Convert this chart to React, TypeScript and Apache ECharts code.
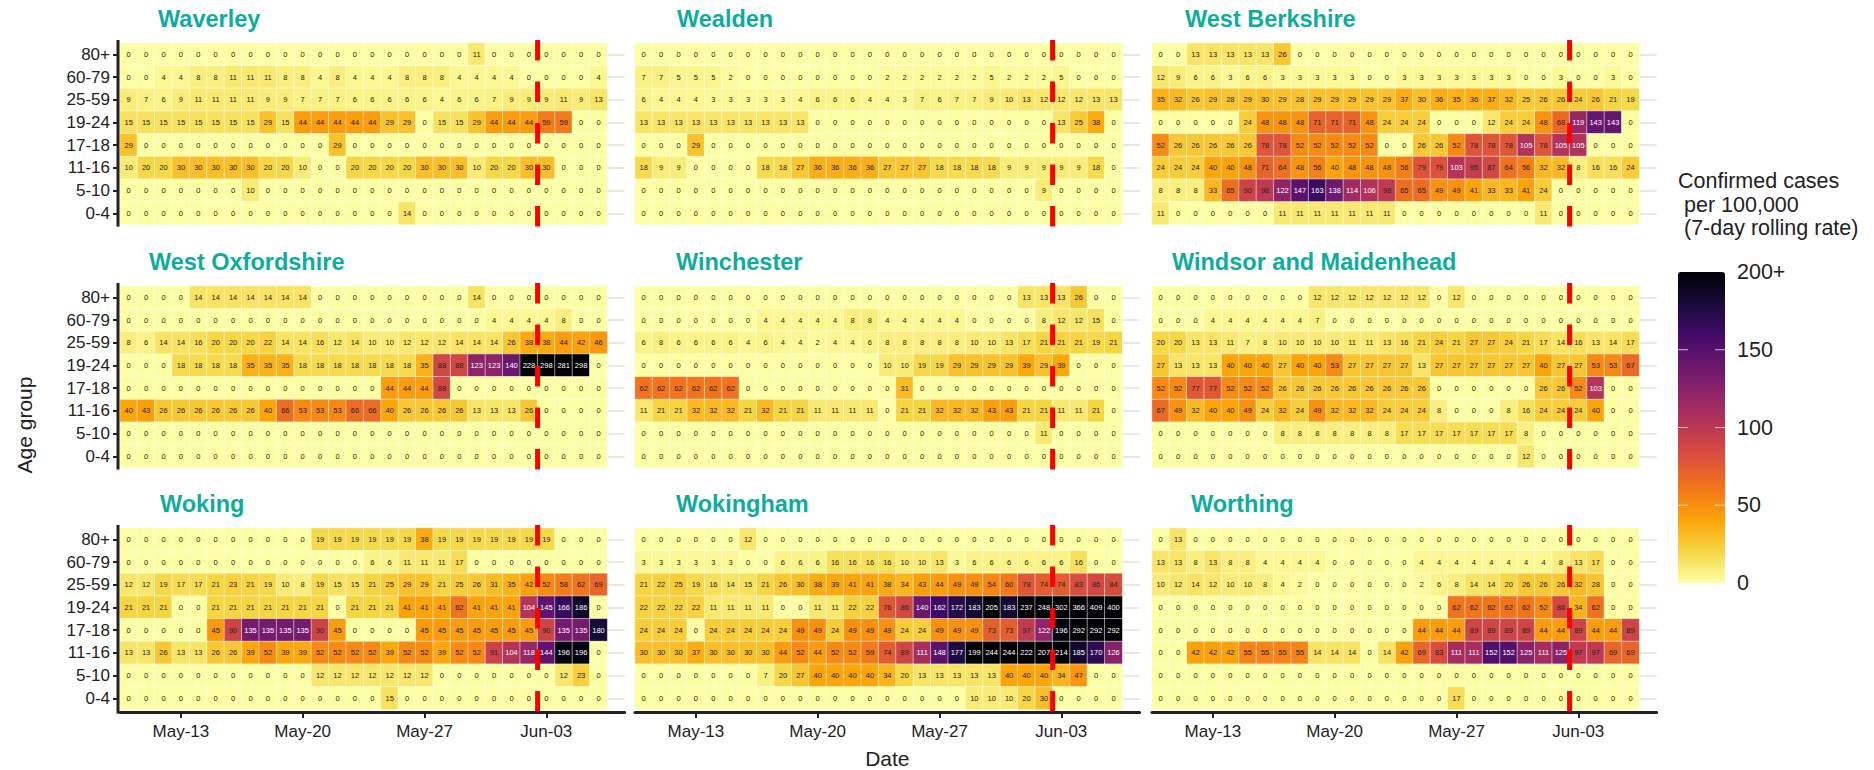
import React, { useEffect, useRef } from "react";
import * as echarts from "echarts";

const dates = ["May-10","May-11","May-12","May-13","May-14","May-15","May-16","May-17","May-18","May-19","May-20","May-21","May-22","May-23","May-24","May-25","May-26","May-27","May-28","May-29","May-30","May-31","Jun-01","Jun-02","Jun-03","Jun-04","Jun-05","Jun-06",""];
const ages = ["80+","60-79","25-59","19-24","17-18","11-16","5-10","0-4"];
const zeros = [0,0,0,0,0,0,0,0,0,0,0,0,0,0,0,0,0,0,0,0,0,0,0,0,0,0,0,0];

const waverley = [
  [0,0,0,0,0,0,0,0,0,0,0,0,0,0,0,0,0,0,0,0,11,0,0,0,0,0,0,0],
  [0,0,4,4,8,8,11,11,11,8,8,4,8,4,4,4,8,8,8,4,4,4,4,0,0,0,0,4],
  [9,7,6,9,11,11,11,11,9,9,7,7,7,6,6,6,6,6,4,6,6,7,9,9,9,11,9,13],
  [15,15,15,15,15,15,15,15,29,15,44,44,44,44,44,29,29,0,15,15,29,44,44,44,59,59,0,0],
  [29,0,0,0,0,0,0,0,0,0,0,0,29,0,0,0,0,0,0,0,0,0,0,0,0,0,0,0],
  [10,20,20,30,30,30,30,30,20,20,10,0,0,20,20,20,20,30,30,30,10,20,20,30,30,0,0,0],
  [0,0,0,0,0,0,0,10,0,0,0,0,0,0,0,0,0,0,0,0,0,0,0,0,0,0,0,0],
  [0,0,0,0,0,0,0,0,0,0,0,0,0,0,0,0,14,0,0,0,0,0,0,0,0,0,0,0],
];
const wealden = [
  zeros,
  [7,7,5,5,5,2,0,0,0,0,0,0,0,0,2,2,2,2,2,2,5,2,2,2,5,0,0,0],
  [6,4,4,4,3,3,3,3,3,4,6,6,6,4,4,3,7,6,7,7,9,10,13,12,12,12,13,13],
  [13,13,13,13,13,13,13,13,13,13,0,0,0,0,0,0,0,0,0,0,0,0,0,0,13,25,38,0],
  [0,0,0,29,0,0,0,0,0,0,0,0,0,0,0,0,0,0,0,0,0,0,0,0,0,0,0,0],
  [18,9,9,0,0,0,0,18,18,27,36,36,36,36,27,27,27,18,18,18,18,9,9,9,9,9,18,0],
  [0,0,0,0,0,0,0,0,0,0,0,0,0,0,0,0,0,0,0,0,0,0,0,9,0,0,0,0],
  zeros,
];
const westBerkshire = [
  [0,0,13,13,13,13,13,26,0,0,0,0,0,0,0,0,0,0,0,0,0,0,0,0,0,0,0,0],
  [12,9,6,6,3,6,6,3,3,3,3,3,0,0,3,3,3,3,3,3,3,0,0,3,0,0,3,0],
  [35,32,26,29,28,29,30,29,28,29,29,29,29,29,37,30,36,35,36,37,32,25,26,26,24,26,21,19],
  [0,0,0,0,0,24,48,48,48,71,71,71,48,24,24,24,0,0,0,12,24,24,48,68,119,143,143,0],
  [52,26,26,26,26,26,78,78,52,52,52,52,52,0,0,26,26,52,78,78,78,105,78,105,105,0,0,0],
  [24,24,24,40,40,48,71,64,48,56,40,48,48,48,56,79,79,103,95,87,64,56,32,32,8,16,16,24],
  [8,8,8,33,65,90,98,122,147,163,138,114,106,98,65,65,49,49,41,33,33,41,24,0,0,0,0,0],
  [11,0,0,0,0,0,0,11,11,11,11,11,11,11,0,0,0,0,0,0,0,0,11,0,0,0,0,0],
];
const westOxfordshire = [
  [0,0,0,0,14,14,14,14,14,14,14,0,0,0,0,0,0,0,0,0,14,0,0,0,0,0,0,0],
  [0,0,0,0,0,0,0,0,0,0,0,0,0,0,0,0,0,0,0,0,0,4,4,4,4,8,0,0],
  [8,6,14,14,16,20,20,20,22,14,14,16,12,14,10,10,12,12,12,14,14,14,26,38,38,44,42,46],
  [0,0,0,18,18,18,18,35,35,35,18,18,18,18,18,18,18,35,88,88,123,123,140,228,298,281,298,0],
  [0,0,0,0,0,0,0,0,0,0,0,0,0,0,0,44,44,44,88,0,0,0,0,0,0,0,0,0],
  [40,43,26,26,26,26,26,26,40,66,53,53,53,66,66,40,26,26,26,26,13,13,13,26,0,0,0,0],
  zeros,
  zeros,
];
const winchester = [
  [0,0,0,0,0,0,0,0,0,0,0,0,0,0,0,0,0,0,0,0,0,0,13,13,13,26,0,0],
  [0,0,0,0,0,0,0,4,4,4,4,4,8,8,4,4,4,4,4,0,0,0,0,8,12,12,15,0],
  [6,8,6,6,6,6,4,6,4,4,2,4,4,6,8,8,8,8,8,10,10,13,17,21,21,21,19,21],
  [0,0,0,0,0,0,0,0,0,0,0,0,0,0,10,10,19,19,29,29,29,29,39,29,39,0,0,0],
  [62,62,62,62,62,62,0,0,0,0,0,0,0,0,0,31,0,0,0,0,0,0,0,0,0,0,0,0],
  [11,21,21,32,32,32,21,32,21,21,11,11,11,11,0,21,21,32,32,32,43,43,21,21,11,11,21,0],
  [0,0,0,0,0,0,0,0,0,0,0,0,0,0,0,0,0,0,0,0,0,0,0,11,0,0,0,0],
  zeros,
];
const windsorMaidenhead = [
  [0,0,0,0,0,0,0,0,0,12,12,12,12,12,12,12,0,12,0,0,0,0,0,0,0,0,0,0],
  [0,0,0,4,4,4,4,4,4,7,0,0,0,0,0,0,0,0,0,0,0,0,0,0,0,0,0,0],
  [20,20,13,13,11,7,8,10,10,10,10,11,11,13,16,21,24,21,27,27,24,21,17,14,16,13,14,17],
  [27,13,13,13,40,40,40,27,40,40,53,27,27,27,27,13,27,27,27,27,27,27,40,27,27,53,53,67],
  [52,52,77,77,52,52,52,26,26,26,26,26,26,26,26,26,0,0,0,0,0,0,26,26,52,103,0,0],
  [67,49,32,40,40,49,24,32,24,49,32,32,32,24,24,24,8,0,0,0,8,16,24,24,24,40,0,0],
  [0,0,0,0,0,0,0,8,8,8,8,8,8,8,17,17,17,17,17,17,17,8,0,0,0,0,0,0],
  [0,0,0,0,0,0,0,0,0,0,0,0,0,0,0,0,0,0,0,0,0,12,0,0,0,0,0,0],
];
const woking = [
  [0,0,0,0,0,0,0,0,0,0,0,19,19,19,19,19,19,38,19,19,19,19,19,19,19,0,0,0],
  [0,0,0,0,0,0,0,0,0,0,0,0,0,0,6,6,11,11,11,17,0,0,0,0,0,0,0,0],
  [12,12,19,17,17,21,23,21,19,10,8,19,15,15,21,25,29,29,21,25,26,31,35,42,52,58,62,69],
  [21,21,21,0,0,21,21,21,21,21,21,21,0,21,21,21,41,41,41,62,41,41,41,104,145,166,186,0],
  [0,0,0,0,0,45,90,135,135,135,135,90,45,0,0,0,0,45,45,45,45,45,45,45,90,135,135,180],
  [13,13,26,13,13,26,26,39,52,39,39,52,52,52,52,39,52,52,39,52,52,91,104,118,144,196,196,0],
  [0,0,0,0,0,0,0,0,0,0,0,12,12,12,12,12,12,12,0,0,0,0,0,0,0,12,23,0],
  [0,0,0,0,0,0,0,0,0,0,0,0,0,0,0,15,0,0,0,0,0,0,0,0,0,0,0,0],
];
const wokingham = [
  [0,0,0,0,0,0,12,0,0,0,0,0,0,0,0,0,0,0,0,0,0,0,0,0,0,0,0,0],
  [3,3,3,3,3,3,0,0,6,6,6,16,16,16,16,10,10,13,3,6,6,6,6,6,6,16,0,0],
  [21,22,25,19,16,14,15,21,26,30,38,39,41,41,38,34,43,44,49,49,54,60,78,74,74,83,86,84],
  [22,22,22,22,11,11,11,11,0,0,11,11,22,22,76,86,140,162,172,183,205,183,237,248,302,366,409,400],
  [24,24,24,0,24,24,24,24,24,49,49,24,49,49,49,24,24,49,49,49,73,73,97,122,196,292,292,292],
  [30,30,30,37,30,30,30,30,44,52,44,52,52,59,74,89,111,148,177,199,244,244,222,207,214,185,170,126],
  [0,0,0,0,0,0,0,7,20,27,40,40,40,40,34,20,13,13,13,13,13,40,40,40,34,47,0,0],
  [0,0,0,0,0,0,0,0,0,0,0,0,0,0,0,0,0,0,0,10,10,10,20,30,0,0,0,0],
];
const worthing = [
  [0,13,0,0,0,0,0,0,0,0,0,0,0,0,0,0,0,0,0,0,0,0,0,0,0,0,0,0],
  [13,13,8,13,8,8,4,4,4,4,0,0,0,0,0,4,4,4,4,4,4,4,4,8,13,17,0,0],
  [10,12,14,12,10,10,8,4,2,0,0,0,0,0,0,2,6,8,14,14,20,26,26,26,32,28,0,0],
  [0,0,0,0,0,0,0,0,0,0,0,0,0,0,0,0,0,62,62,62,62,62,52,86,34,62,0,0],
  [0,0,0,0,0,0,0,0,0,0,0,0,0,0,0,44,44,44,89,89,89,89,44,44,89,44,44,89],
  [0,0,42,42,42,55,55,55,55,14,14,14,0,14,42,69,83,111,111,152,152,125,111,125,97,97,69,69],
  zeros,
  [0,0,0,0,0,0,0,0,0,0,0,0,0,0,0,0,0,17,0,0,0,0,0,0,0,0,0,0],
];

const panels = [
  { name: "Waverley", rows: waverley },
  { name: "Wealden", rows: wealden },
  { name: "West Berkshire", rows: westBerkshire },
  { name: "West Oxfordshire", rows: westOxfordshire },
  { name: "Winchester", rows: winchester },
  { name: "Windsor and Maidenhead", rows: windsorMaidenhead },
  { name: "Woking", rows: woking },
  { name: "Wokingham", rows: wokingham },
  { name: "Worthing", rows: worthing },
];
const titleLeft = [158, 677, 1185, 149, 676, 1172, 160, 676, 1191];
const legendTicks = [{ v: 200, t: "200+" }, { v: 150, t: "150" }, { v: 100, t: "100" }, { v: 50, t: "50" }, { v: 0, t: "0" }];
const legendTitle = ["Confirmed cases", "per 100,000", "(7-day rolling rate)"];
const inferno = ["#FCFFA4","#F6D746","#FCA50A","#F37819","#DD513A","#BC3754","#932667","#6A176E","#420A68","#160B39","#000004"];

const FONT = "'Liberation Sans', Arial, sans-serif";
const colLeft = [120, 635, 1152];
const rowTop = [43, 286, 528];
const CW = 17.4;
const CH = 22.7;
const tickIdx = [3, 10, 17, 24];
const redIdx = 24;
const BAR = { x: 1678, y: 272, w: 47, h: 311 };

export default function App() {
  const ref = useRef<HTMLDivElement>(null);
  useEffect(() => {
    const chart = echarts.init(ref.current!, undefined, { renderer: "svg" });
    const grid: any[] = [], xAxis: any[] = [], yAxis: any[] = [], series: any[] = [], title: any[] = [], graphic: any[] = [];
    panels.forEach((p, i) => {
      const c = i % 3, r = Math.floor(i / 3);
      const left = colLeft[c], top = rowTop[r];
      grid.push({ left, top, width: CW * 29, height: CH * 8, outerBoundsMode: "none" });
      const showX = r === 2;
      xAxis.push({
        type: "category", gridIndex: i, data: dates, position: "bottom", offset: 2.5,
        show: showX,
        axisLine: { show: showX, lineStyle: { color: "#222", width: 3 } },
        axisTick: { show: showX, length: 6, alignWithLabel: true, interval: (k: number) => tickIdx.includes(k), lineStyle: { color: "#222", width: 2 } },
        axisLabel: { show: showX, interval: (k: number) => tickIdx.includes(k), fontSize: 17, fontFamily: FONT, color: "#222", margin: 11 },
        splitLine: { show: false },
        ...(i === 7 ? { name: "Date", nameLocation: "middle", nameGap: 36, nameTextStyle: { fontSize: 21, fontFamily: FONT, color: "#222" } } : {}),
      });
      const ax = yAxis.length;
      yAxis.push({
        type: "category", gridIndex: i, data: ages, inverse: true, position: "left", offset: 2,
        axisLine: { show: false },
        axisTick: { show: c === 0, length: 5, alignWithLabel: true, lineStyle: { color: "#222", width: 2 } },
        axisLabel: { show: c === 0, fontSize: 17, fontFamily: FONT, color: "#222", margin: 8 },
        splitLine: { show: false },
      });
      yAxis.push({
        type: "category", gridIndex: i, data: ages, inverse: true, position: "right",
        axisLine: { show: false },
        axisTick: { show: true, inside: true, length: 17, alignWithLabel: true, lineStyle: { color: "#E9E9DC", width: 2 } },
        axisLabel: { show: false },
        splitLine: { show: false },
      });
      const data: any[] = [];
      p.rows.forEach((row, y) => row.forEach((v, x) => {
        data.push({ value: [x, y, v], label: { color: v >= 100 ? "#fff" : "#222" } });
      }));
      series.push({
        type: "heatmap", xAxisIndex: i, yAxisIndex: ax, data, progressive: 0,
        label: { show: true, fontSize: 7.5, fontFamily: FONT, formatter: (q: any) => String(q.value[2]) },
        itemStyle: { borderColor: "rgba(255,255,255,0.5)", borderWidth: 1 },
        emphasis: { disabled: true },
      });
      title.push({
        text: p.name, left: titleLeft[i], top: top - 36, padding: 0,
        textStyle: { color: "#0DAD9E", fontSize: 23.5, fontWeight: "bold", fontFamily: FONT },
      });
      const redX = left + CW * redIdx;
      graphic.push({
        type: "line", z: 100, silent: true,
        shape: { x1: redX, y1: top - 3, x2: redX, y2: top + CH * 8 + 3 },
        style: { stroke: "#FF0000", lineWidth: 5, lineDash: [20.5, 21] },
      });
      if (c === 0) {
        graphic.push({
          type: "line", z: 50, silent: true,
          shape: { x1: left - 2, y1: top - 3, x2: left - 2, y2: top + CH * 8 + (r === 2 ? 4 : 2) },
          style: { stroke: "#222", lineWidth: 3 },
        });
      }
    });
    graphic.push({
      type: "text", z: 100, x: 24, y: 425, rotation: Math.PI / 2,
      style: { text: "Age group", fontSize: 21, fontFamily: FONT, fill: "#222", align: "center", verticalAlign: "middle" },
    });
    legendTicks.forEach(({ v, t }) => {
      const y = BAR.y + BAR.h * (1 - v / 200);
      graphic.push({
        type: "text", z: 100, x: BAR.x + BAR.w + 12, y,
        style: { text: t, fontSize: 21.5, fontFamily: FONT, fill: "#222", verticalAlign: "middle" },
      });
      if (v > 0 && v < 200) {
        [BAR.x, BAR.x + BAR.w - 10].forEach((x0) => graphic.push({
          type: "line", z: 100, silent: true,
          shape: { x1: x0, y1: y, x2: x0 + 10, y2: y },
          style: { stroke: "rgba(255,255,255,0.7)", lineWidth: 1 },
        }));
      }
    });
    legendTitle.forEach((t, k) => graphic.push({
      type: "text", z: 100, x: k === 0 ? 1678 : 1684, y: 181 + k * 23.5,
      style: { text: t, fontSize: 21.5, fontFamily: FONT, fill: "#222", verticalAlign: "middle" },
    }));
    chart.setOption({
      animation: false,
      backgroundColor: "#fff",
      grid, xAxis, yAxis, series, title, graphic,
      visualMap: {
        type: "continuous", min: 0, max: 200, dimension: 2, calculable: false, orient: "vertical",
        left: BAR.x, top: BAR.y, itemWidth: BAR.w, itemHeight: BAR.h, padding: 0, text: undefined,
        inRange: { color: inferno },
      },
    });
    return () => chart.dispose();
  }, []);
  return <div ref={ref} style={{ position: "absolute", left: 0, top: 0, width: 1874, height: 770 }} />;
}
